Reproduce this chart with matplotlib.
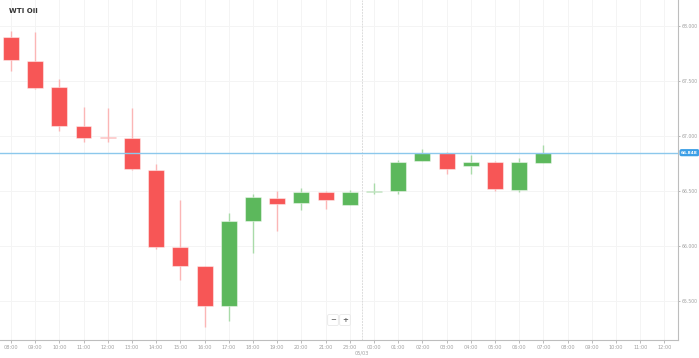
import matplotlib.pyplot as plt
import numpy as np

# hourly candles, WTI Oil
hours = ['08:00', '09:00', '10:00', '11:00', '12:00', '13:00', '14:00', '15:00',
         '16:00', '17:00', '18:00', '19:00', '20:00', '21:00', '23:00', '00:00',
         '01:00', '02:00', '03:00', '04:00', '05:00', '06:00', '07:00']
opens = [67.897, 67.685, 67.443, 67.088, 66.985, 66.979, 66.688, 65.994,
         65.818, 65.455, 66.230, 66.436, 66.391, 66.491, 66.375, 66.490,
         66.497, 66.775, 66.843, 66.727, 66.761, 66.506, 66.757]
highs = [67.955, 67.943, 67.518, 67.267, 67.252, 67.252, 66.745, 66.418,
         65.822, 66.297, 66.470, 66.497, 66.530, 66.500, 66.505, 66.575,
         66.782, 66.882, 66.850, 66.830, 66.773, 66.803, 66.918]
lows = [67.594, 67.430, 67.048, 66.943, 66.945, 66.690, 65.970, 65.691,
        65.261, 65.321, 65.939, 66.139, 66.325, 66.339, 66.370, 66.473,
        66.473, 66.770, 66.657, 66.652, 66.497, 66.491, 66.755]
closes = [67.691, 67.436, 67.094, 66.979, 66.980, 66.697, 65.988, 65.818,
          65.455, 66.227, 66.445, 66.385, 66.488, 66.421, 66.494, 66.495,
          66.764, 66.843, 66.700, 66.764, 66.515, 66.761, 66.848]
axis_labels = hours + ['08:00', '09:00', '10:00', '11:00', '12:00']
last_price = 66.848
yticks = [65.5, 66.0, 66.5, 67.0, 67.5, 68.0]

RED = '#f75656'
GREEN = '#5cb85c'
GRID = '#f4f4f4'
TXT = '#a0a0a0'

fig = plt.figure(figsize=(6.99, 3.58), dpi=100)
ax = fig.add_axes([0, 18 / 358, 678 / 699, 340 / 358])

x = np.arange(len(opens))
o = np.array(opens)
c = np.array(closes)
up = c >= o
cols = np.where(up, GREEN, RED)
wick_cols = np.where(up, '#a9dba9', '#fbb6b6')

ax.vlines(x, lows, highs, colors=wick_cols, linewidth=1.0, zorder=2)
bottoms = np.minimum(o, c)
heights = np.maximum(np.abs(c - o), 0.006)
ax.bar(x, heights, bottom=bottoms, width=0.66, color=cols,
       edgecolor=[(1, 1, 1, 0.45)] * len(x), linewidth=0.8, zorder=3)

# last price line
ax.axhline(last_price, color='#8cc8ec', linewidth=1.0, zorder=4)
ax.annotate(f'{last_price:.3f}', xy=(1.0, last_price), xycoords=('axes fraction', 'data'),
            xytext=(2.2, 0), textcoords='offset points', ha='left', va='center',
            fontsize=3.2, color='white', fontweight='bold',
            bbox=dict(boxstyle='round,pad=0.2,rounding_size=0.3', fc='#3d9fe6', ec='#3d9fe6'),
            annotation_clip=False, zorder=6)

# day separator
ax.axvline(14.5, color='#dcdcdc', linewidth=0.7, linestyle=(0, (2, 1)), zorder=1)
ax.text(14.5, -0.03, '05/03', transform=ax.get_xaxis_transform(), ha='center',
        va='top', fontsize=3.6, color=TXT)

ax.set_xlim(-0.45, 27.56)
ax.set_ylim(65.145, 68.236)
ax.set_xticks(np.arange(len(axis_labels)))
ax.set_xticklabels(axis_labels)
ax.set_yticks(yticks)
ax.set_yticklabels([f'{v:.3f}' for v in yticks])
ax.yaxis.tick_right()
ax.tick_params(axis='x', labelsize=3.6, colors=TXT, length=2, width=0.5, pad=1.5)
ax.tick_params(axis='y', labelsize=3.3, colors=TXT, length=1.5, width=0.5, pad=1)
ax.grid(True, color=GRID, linewidth=0.7, zorder=0)
ax.set_axisbelow(True)
for s in ['top', 'left']:
    ax.spines[s].set_visible(False)
for s in ['right', 'bottom']:
    ax.spines[s].set_color('#bdbdbd')
    ax.spines[s].set_linewidth(0.8)

# title
fig.text(9 / 699, 1 - 11 / 358, 'WTI Oil', fontsize=5, fontweight='bold',
         color='#333333', ha='left', va='center')

# zoom buttons
for bx, sym in [(333, '\u2212'), (345, '+')]:
    fig.text(bx / 699, 1 - 320 / 358, sym, fontsize=5, fontweight='bold', color='#666666',
             ha='center', va='center',
             bbox=dict(boxstyle='round,pad=0.35,rounding_size=0.2', fc='white', ec='#e8e8e8', lw=0.6))

fig.savefig('out.png', dpi=100)
